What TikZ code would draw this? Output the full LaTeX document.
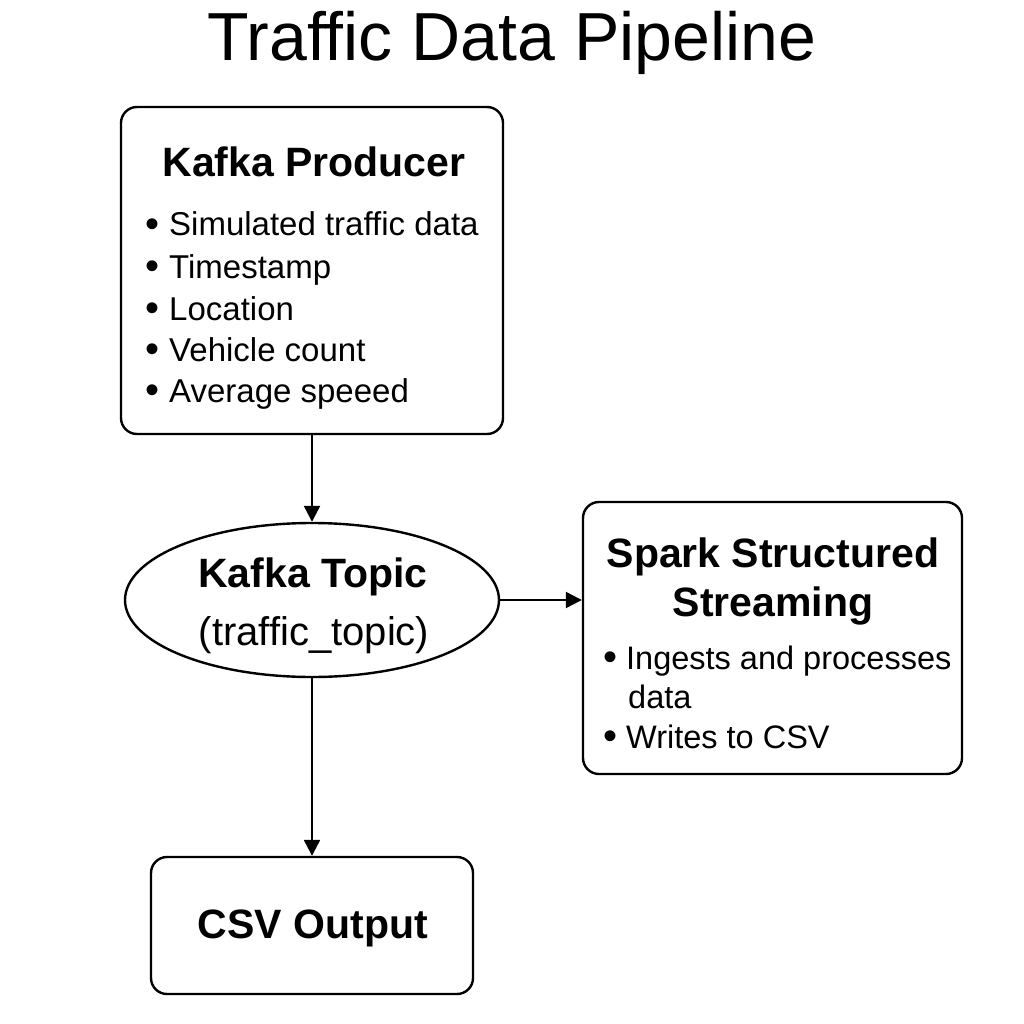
\documentclass[tikz,border=0pt]{standalone}
\usepackage{fontspec}
\setmainfont{Liberation Sans}
\usetikzlibrary{arrows.meta,shapes.geometric}
\newcommand{\blt}{{\fontsize{40}{40}\selectfont\raisebox{-1.5pt}{•}}}
\begin{document}
\begin{tikzpicture}[x=1pt,y=-1pt,
  box/.style={draw,line width=2.4pt,rounded corners=16pt,inner sep=0pt},
  oval/.style={draw,ellipse,line width=2.4pt,inner sep=0pt},
  conn/.style={line width=2.3pt,-{Triangle[length=16pt,width=16pt]}},
  head/.style={anchor=base,inner sep=0pt,font=\fontsize{41}{45}\selectfont\bfseries},
  item/.style={anchor=base west,inner sep=0pt,font=\fontsize{33}{38}\selectfont},
  ttl/.style={anchor=base,inner sep=0pt,font=\fontsize{68}{72}\selectfont}]
\useasboundingbox[fill=white] (0,0) rectangle (1024,1024);
\node[ttl] (title) at (512,61) {Traffic Data Pipeline};
% Producer
\node[box,minimum width=382pt,minimum height=327pt] (prod) at (312,270.5) {};
\node[head] (prodh) at (314,177) {Kafka Producer};
\node[item] (p1) at (145,236) {\blt\hspace{10pt}Simulated traffic data};
\node[item] (p2) at (145,278) {\blt\hspace{10pt}Timestamp};
\node[item] (p3) at (145,320) {\blt\hspace{10pt}Location};
\node[item] (p4) at (145,361) {\blt\hspace{10pt}Vehicle count};
\node[item] (p5) at (145,402) {\blt\hspace{10pt}Average speeed};
% Topic
\node[oval,minimum width=374pt,minimum height=154pt] (topic) at (312,600) {};
\node[head] (topich) at (313,587) {Kafka Topic};
\node[anchor=base,inner sep=0pt,font=\fontsize{40}{44}\selectfont] (topics) at (314,645) {(traffic\_topic)};
% Spark
\node[box,minimum width=379pt,minimum height=272pt] (spark) at (772.5,638) {};
\node[head] (sparkh1) at (773,567) {Spark Structured};
\node[head] (sparkh2) at (773,616) {Streaming};
\node[item,font=\fontsize{32.5}{38}\selectfont] (s1) at (603,669) {\blt\hspace{9pt}Ingests and processes};
\node[item,font=\fontsize{32.5}{38}\selectfont] (s2) at (628,708) {data};
\node[item,font=\fontsize{32.5}{38}\selectfont] (s3) at (603,748) {\blt\hspace{9pt}Writes to CSV};
% CSV
\node[box,minimum width=322pt,minimum height=137pt] (csv) at (312,925.5) {};
\node[head] (csvh) at (313,938) {CSV Output};
% connectors
\draw[conn] (prod.south) -- (topic.north);
\draw[conn] (topic.east) -- (spark.west |- topic.east);
\draw[conn] (topic.south) -- (csv.north);
\end{tikzpicture}
\end{document}
